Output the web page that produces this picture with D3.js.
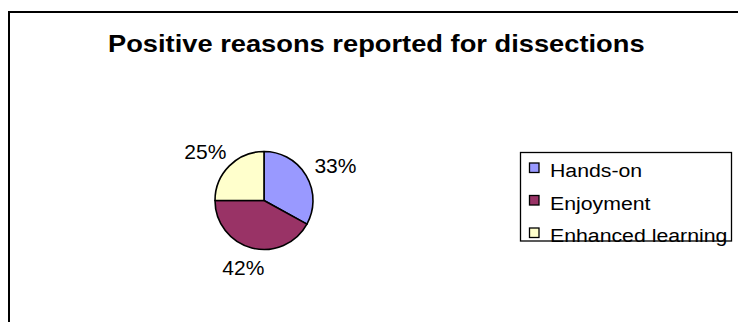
<!DOCTYPE html>
<html>
<head>
<meta charset="utf-8">
<script src="https://cdn.jsdelivr.net/npm/d3@7"></script>
<style>
  html, body { margin: 0; padding: 0; background: #fff; }
  svg { display: block; }
  text { font-family: "Liberation Sans", Arial, sans-serif; fill: #000; }
</style>
</head>
<body>
<svg id="chart" width="738" height="322"></svg>
<script>
const title = "Positive reasons reported for dissections";
const categories = ["Hands-on", "Enjoyment", "Enhanced learning"];
const values = [33, 42, 25];
const colors = ["#9999FF", "#993366", "#FFFFCC"];

const svg = d3.select("#chart");

// outer chart frame (top and left edges visible)
svg.append("path")
  .attr("d", "M9,322 V12 H738")
  .attr("fill", "none")
  .attr("stroke", "#000")
  .attr("stroke-width", 2);

// title, stretched horizontally to span the same width as the original
const titleLeft = 108, titleRight = 645;
const t = svg.append("text")
  .attr("font-size", 23)
  .attr("font-weight", "bold")
  .text(title);
const tw = t.node().getComputedTextLength();
t.attr("transform", `translate(${titleLeft},52) scale(${(titleRight - titleLeft) / tw},1)`);

// pie
const cx = 264, cy = 200.5, r = 49;
const pie = d3.pie().sort(null).value(d => d)(values);
const arc = d3.arc().innerRadius(0).outerRadius(r);
const color = d3.scaleOrdinal().domain(categories).range(colors);

const g = svg.append("g").attr("transform", `translate(${cx},${cy})`);
g.selectAll("path.slice")
  .data(pie)
  .join("path")
  .attr("class", "slice")
  .attr("d", arc)
  .attr("fill", (d, i) => color(categories[i]))
  .attr("stroke", "#000")
  .attr("stroke-width", 1.6)
  .attr("stroke-linejoin", "round");

// percentage labels: anchor point just outside the pie, box pushed outward
const total = d3.sum(values);
const labelR = 62, capH = 15;
g.selectAll("text.pct")
  .data(pie)
  .join("text")
  .attr("class", "pct")
  .attr("text-anchor", "middle")
  .attr("dy", "0.36em")
  .attr("font-size", 21)
  .text(d => Math.round(d.value / total * 100) + "%")
  .each(function(d) {
    const a = (d.startAngle + d.endAngle) / 2;
    const w = this.getComputedTextLength();
    const x = Math.sin(a) * labelR + Math.sin(a) * w / 2;
    const y = -Math.cos(a) * labelR - Math.cos(a) * capH / 2;
    d3.select(this).attr("x", x).attr("y", y);
  });

// legend
const lg = svg.append("g");
lg.append("rect")
  .attr("x", 520.5).attr("y", 152.5)
  .attr("width", 211).attr("height", 88.5)
  .attr("fill", "#fff")
  .attr("stroke", "#000")
  .attr("stroke-width", 1.3);

const ly = d3.scalePoint().domain(categories).range([168, 233]);
const items = lg.selectAll("g.item")
  .data(categories)
  .join("g")
  .attr("class", "item")
  .attr("transform", d => `translate(0,${ly(d)})`);
items.append("rect")
  .attr("x", 529.5).attr("y", -5)
  .attr("width", 9.5).attr("height", 9.5)
  .attr("fill", d => color(d))
  .attr("stroke", "#000")
  .attr("stroke-width", 1.3);
items.append("text")
  .attr("transform", "translate(550,9) scale(1.12,1)")
  .attr("font-size", 19)
  .text(d => d);
</script>
</body>
</html>
